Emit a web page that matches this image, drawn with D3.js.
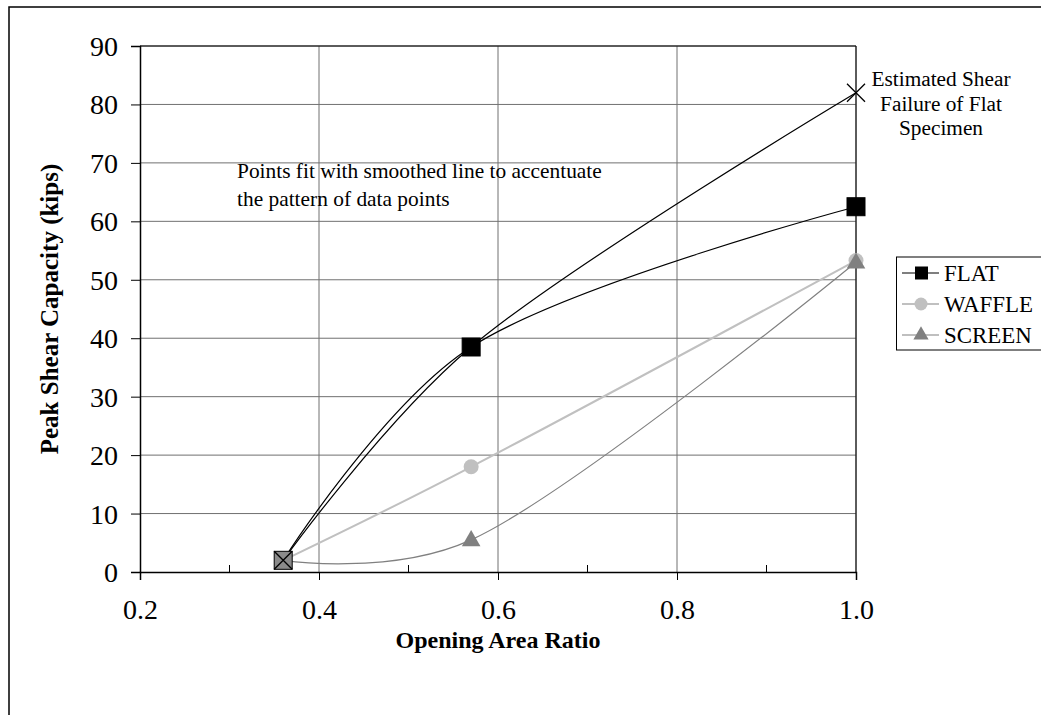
<!DOCTYPE html>
<html><head><meta charset="utf-8">
<script src="https://cdn.jsdelivr.net/npm/d3@7"></script>
<style>body{margin:0;background:#fff}svg{display:block}text{font-family:"Liberation Serif","Times New Roman",serif}</style>
</head><body><svg id="c" width="1041" height="715"></svg>
<script>
const xTicks = [0.2, 0.4, 0.6, 0.8, 1.0];
const xMinor = [0.3, 0.5, 0.7, 0.9];
const yTicks = [0, 10, 20, 30, 40, 50, 60, 70, 80, 90];
const ratio = [0.36, 0.57, 1.0];
const flat = [2, 38.5, 62.5];
const waffle = [2, 18, 53.3];
const screen = [2, 5.5, 53];
const estimated = [2, 38.5, 82];
const seriesNames = ["FLAT", "WAFFLE", "SCREEN"];

const svg = d3.select("#c");
const x = d3.scaleLinear().domain([0.2, 1.0]).range([140, 856]);
const y = d3.scaleLinear().domain([0, 90]).range([572, 46]);

// outer border
svg.append("rect").attr("x", 9).attr("y", 7).attr("width", 1040).attr("height", 720)
  .attr("fill", "none").attr("stroke", "#000").attr("stroke-width", 1.5);

// gridlines
svg.append("g").selectAll("line").data(yTicks.slice(1)).join("line")
  .attr("x1", x(0.2)).attr("x2", x(1.0)).attr("y1", d => y(d)).attr("y2", d => y(d))
  .attr("stroke", "#707070").attr("stroke-width", 1);
svg.append("g").selectAll("line").data(xTicks.slice(1)).join("line")
  .attr("y1", y(0)).attr("y2", y(90)).attr("x1", d => x(d)).attr("x2", d => x(d))
  .attr("stroke", "#707070").attr("stroke-width", 1);
svg.append("path").attr("d", `M${x(0.2)},${y(90)}H${x(1.0)}V${y(0)}`)
  .attr("fill", "none").attr("stroke", "#000").attr("stroke-width", 1);

// axes
const gx = svg.append("g").attr("transform", `translate(0,${y(0)})`)
  .call(d3.axisBottom(x).tickValues(xTicks).tickFormat(d3.format(".1f")).tickSize(8));
const gy = svg.append("g").attr("transform", `translate(${x(0.2)},0)`)
  .call(d3.axisLeft(y).tickValues(yTicks).tickSize(9).tickPadding(13));
[gx, gy].forEach(g => {
  g.select(".domain").attr("stroke", "#000").attr("stroke-width", 1.5);
  g.selectAll(".tick line").attr("stroke", "#000");
  g.selectAll("text").attr("font-size", 28).attr("fill", "#000").style("font-family", '"Liberation Serif",serif');
});
gx.selectAll("text").attr("y", 47).attr("dy", 0);
gy.selectAll("text").attr("dy", "0.34em");
svg.append("g").selectAll("line").data(xMinor).join("line")
  .attr("x1", d => x(d)).attr("x2", d => x(d)).attr("y1", y(0)).attr("y2", y(0) - 7)
  .attr("stroke", "#000");

// axis titles
svg.append("text").attr("x", 498).attr("y", 648).attr("text-anchor", "middle")
  .attr("font-size", 24).attr("font-weight", "bold").text("Opening Area Ratio");
svg.append("text").attr("transform", "translate(58,309) rotate(-90)").attr("text-anchor", "middle")
  .attr("font-size", 25).attr("font-weight", "bold").text("Peak Shear Capacity (kips)");

const curve = d3.curveCatmullRom.alpha(0.25);
const mk = vals => d3.line().x((d, i) => x(ratio[i])).y(d => y(d)).curve(curve)(vals);

svg.append("path").attr("d", mk(estimated)).attr("fill", "none").attr("stroke", "#000").attr("stroke-width", 1.2);
svg.append("path").attr("d", mk(flat)).attr("fill", "none").attr("stroke", "#000").attr("stroke-width", 1.2);
svg.append("path").attr("d", mk(waffle)).attr("fill", "none").attr("stroke", "#c0c0c0").attr("stroke-width", 2);
svg.append("path").attr("d", mk(screen)).attr("fill", "none").attr("stroke", "#808080").attr("stroke-width", 1.2);

// markers
const sq = 18;
svg.append("g").selectAll("rect").data(flat).join("rect")
  .attr("x", (d, i) => x(ratio[i]) - sq / 2).attr("y", d => y(d) - sq / 2)
  .attr("width", sq).attr("height", sq)
  .attr("fill", (d, i) => i === 0 ? "#8a8a8a" : "#000").attr("stroke", "#000").attr("stroke-width", 1);
svg.append("g").selectAll("circle").data(waffle).join("circle")
  .attr("cx", (d, i) => x(ratio[i])).attr("cy", d => y(d)).attr("r", 7.5)
  .attr("fill", "#c0c0c0").attr("opacity", (d, i) => i === 0 ? 0 : 1);
const tri = d3.symbol().type(d3.symbolTriangle).size(150);
svg.append("g").selectAll("path").data(screen).join("path")
  .attr("transform", (d, i) => `translate(${x(ratio[i])},${y(d) + 1})`).attr("d", tri)
  .attr("fill", "#808080").attr("opacity", (d, i) => i === 0 ? 0 : 1);
const xIdx = [0, 2];
svg.append("g").selectAll("path").data(xIdx).join("path")
  .attr("d", i => {
    const cx = x(ratio[i]), cy = y(estimated[i]), s = 9;
    return `M${cx - s},${cy - s}L${cx + s},${cy + s}M${cx - s},${cy + s}L${cx + s},${cy - s}`;
  })
  .attr("stroke", "#000").attr("stroke-width", 1.3).attr("fill", "none");

// annotations
const ann1 = ["Points fit with smoothed line to accentuate", "the pattern of data points"];
svg.append("g").selectAll("text").data(ann1).join("text")
  .attr("x", 237).attr("y", (d, i) => 178 + i * 28).attr("font-size", 21.4).text(d => d);
const ann2 = ["Estimated Shear", "Failure of Flat", "Specimen"];
svg.append("g").selectAll("text").data(ann2).join("text")
  .attr("x", 941).attr("y", (d, i) => 86 + i * 24.5).attr("text-anchor", "middle").attr("font-size", 21.3).text(d => d);

// legend
const lg = svg.append("g");
lg.append("rect").attr("x", 896.5).attr("y", 257).attr("width", 150).attr("height", 93)
  .attr("fill", "#fff").attr("stroke", "#000").attr("stroke-width", 1);
const lcol = ["#000", "#c0c0c0", "#808080"];
seriesNames.forEach((n, i) => {
  const cy = 273 + i * 31;
  lg.append("line").attr("x1", 902).attr("x2", 939).attr("y1", cy).attr("y2", cy)
    .attr("stroke", lcol[i]).attr("stroke-width", i === 1 ? 2 : 1.2);
  if (i === 0) lg.append("rect").attr("x", 915).attr("y", cy - 6.5).attr("width", 13).attr("height", 13).attr("fill", "#000");
  if (i === 1) lg.append("circle").attr("cx", 921).attr("cy", cy).attr("r", 6.5).attr("fill", "#c0c0c0");
  if (i === 2) lg.append("path").attr("transform", `translate(921,${cy})`).attr("d", d3.symbol().type(d3.symbolTriangle).size(100)).attr("fill", "#808080");
  lg.append("text").attr("x", 944).attr("y", cy).attr("dy", "0.35em").attr("font-size", 22.9).text(n);
});
</script></body></html>
